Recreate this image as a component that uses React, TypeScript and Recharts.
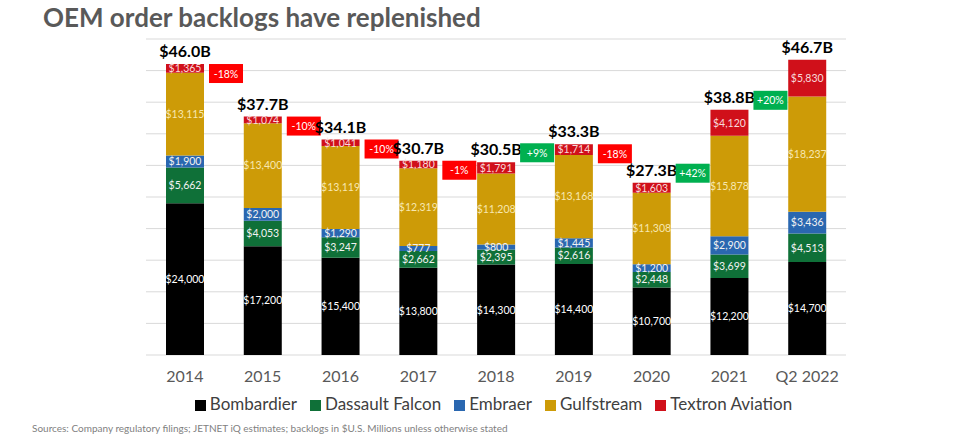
import { Bar, BarChart, CartesianGrid, LabelList, Legend, XAxis, YAxis, Rectangle } from 'recharts';

const categories = ['2014', '2015', '2016', '2017', '2018', '2019', '2020', '2021', 'Q2 2022'];
const bombardier = [24000, 17200, 15400, 13800, 14300, 14400, 10700, 12200, 14700];
const dassault = [5662, 4053, 3247, 2662, 2395, 2616, 2448, 3699, 4513];
const embraer = [1900, 2000, 1290, 777, 800, 1445, 1200, 2900, 3436];
const gulfstream = [13115, 13400, 13119, 12319, 11208, 13168, 11308, 15878, 18237];
const textron = [1365, 1074, 1041, 1180, 1791, 1714, 1603, 4120, 5830];
// change to the following period
const changes = ['-18%', '-10%', '-10%', '-1%', '+9%', '-18%', '+42%', '+20%', ''];
const yTicks = [0, 5000, 10000, 15000, 20000, 25000, 30000, 35000, 40000, 45000, 50000];

const data = categories.map((name, i) => ({
  name,
  bombardier: bombardier[i],
  dassault: dassault[i],
  embraer: embraer[i],
  gulfstream: gulfstream[i],
  textron: textron[i],
  total: bombardier[i] + dassault[i] + embraer[i] + gulfstream[i] + textron[i],
  change: changes[i],
}));

const FONT = 'Lato, "Open Sans", sans-serif';
const money = (v: number) => '$' + Number(v).toLocaleString('en-US');

const TopShape = (props: any) => {
  const { x, y, width, height, fill, payload } = props;
  const change: string = payload.change;
  const up = change.startsWith('+');
  const bx = x + width + 5;
  const by = up ? y - 19 : y;
  return (
    <g>
      <Rectangle x={x} y={y} width={width} height={height} fill={fill} />
      <text
        x={x + width / 2}
        y={y - 7}
        textAnchor="middle"
        fontSize={16}
        fontWeight={700}
        fill="#000"
        fontFamily={FONT}
      >
        {'$' + (payload.total / 1000).toFixed(1) + 'B'}
      </text>
      {change && (
        <g>
          <rect x={bx} y={by} width={34} height={19} fill={up ? '#00B050' : '#FF0000'} />
          <text
            x={bx + 17}
            y={by + 13.5}
            textAnchor="middle"
            fontSize={10.5}
            fill="#fff"
            fontFamily={FONT}
          >
            {change}
          </text>
        </g>
      )}
    </g>
  );
};

const segLabel = (color: string) => ({
  position: 'center' as const,
  fill: color,
  fontSize: 10.5,
  fontFamily: FONT,
  formatter: money,
});

export default function App() {
  return (
    <div
      style={{
        position: 'absolute',
        left: 0,
        top: 0,
        width: 975,
        height: 439,
        background: '#fff',
        fontFamily: FONT,
        overflow: 'hidden',
      }}
    >
      <div
        style={{
          position: 'absolute',
          left: 43,
          top: 2,
          fontSize: 26,
          lineHeight: '30px',
          fontWeight: 700,
          color: '#595959',
          whiteSpace: 'nowrap',
        }}
      >
        OEM order backlogs have replenished
      </div>
      <BarChart
        width={975}
        height={439}
        data={data}
        margin={{ top: 39, right: 129, bottom: 54, left: 146 }}
      >
        <CartesianGrid vertical={false} stroke="#D9D9D9" />
        <XAxis
          dataKey="name"
          axisLine={false}
          tickLine={false}
          height={30}
          tickMargin={10}
          tick={{ fontSize: 16, fill: '#595959', fontFamily: FONT }}
        />
        <YAxis hide domain={[0, 50000]} ticks={yTicks} />
        <Legend
          verticalAlign="middle"
          align="center"
          iconType="square"
          iconSize={11}
          wrapperStyle={{ top: 393, left: 0, width: 1000, fontSize: 17, fontFamily: FONT }}
          formatter={(value: string) => (
            <span style={{ color: '#404040', marginRight: 3 }}>{value}</span>
          )}
        />
        <Bar dataKey="bombardier" name="Bombardier" stackId="a" fill="#000000" barSize={38} isAnimationActive={false}>
          <LabelList dataKey="bombardier" {...segLabel('#FFFFFF')} />
        </Bar>
        <Bar dataKey="dassault" name="Dassault Falcon" stackId="a" fill="#0F7038" barSize={38} isAnimationActive={false}>
          <LabelList dataKey="dassault" {...segLabel('#F2F2F2')} />
        </Bar>
        <Bar dataKey="embraer" name="Embraer" stackId="a" fill="#2A67B0" barSize={38} isAnimationActive={false}>
          <LabelList dataKey="embraer" {...segLabel('#F2F2F2')} />
        </Bar>
        <Bar dataKey="gulfstream" name="Gulfstream" stackId="a" fill="#CD9B07" barSize={38} isAnimationActive={false}>
          <LabelList dataKey="gulfstream" {...segLabel('#F7E7B0')} />
        </Bar>
        <Bar
          dataKey="textron"
          name="Textron Aviation"
          stackId="a"
          fill="#D0101A"
          barSize={38}
          isAnimationActive={false}
          shape={TopShape}
        >
          <LabelList dataKey="textron" {...segLabel('#F8DADA')} />
        </Bar>
      </BarChart>
      <div
        style={{
          position: 'absolute',
          left: 32,
          top: 422,
          fontSize: 10,
          color: '#7F7F7F',
          whiteSpace: 'nowrap',
        }}
      >
        Sources: Company regulatory filings; JETNET iQ estimates; backlogs in $U.S. Millions unless otherwise stated
      </div>
    </div>
  );
}
